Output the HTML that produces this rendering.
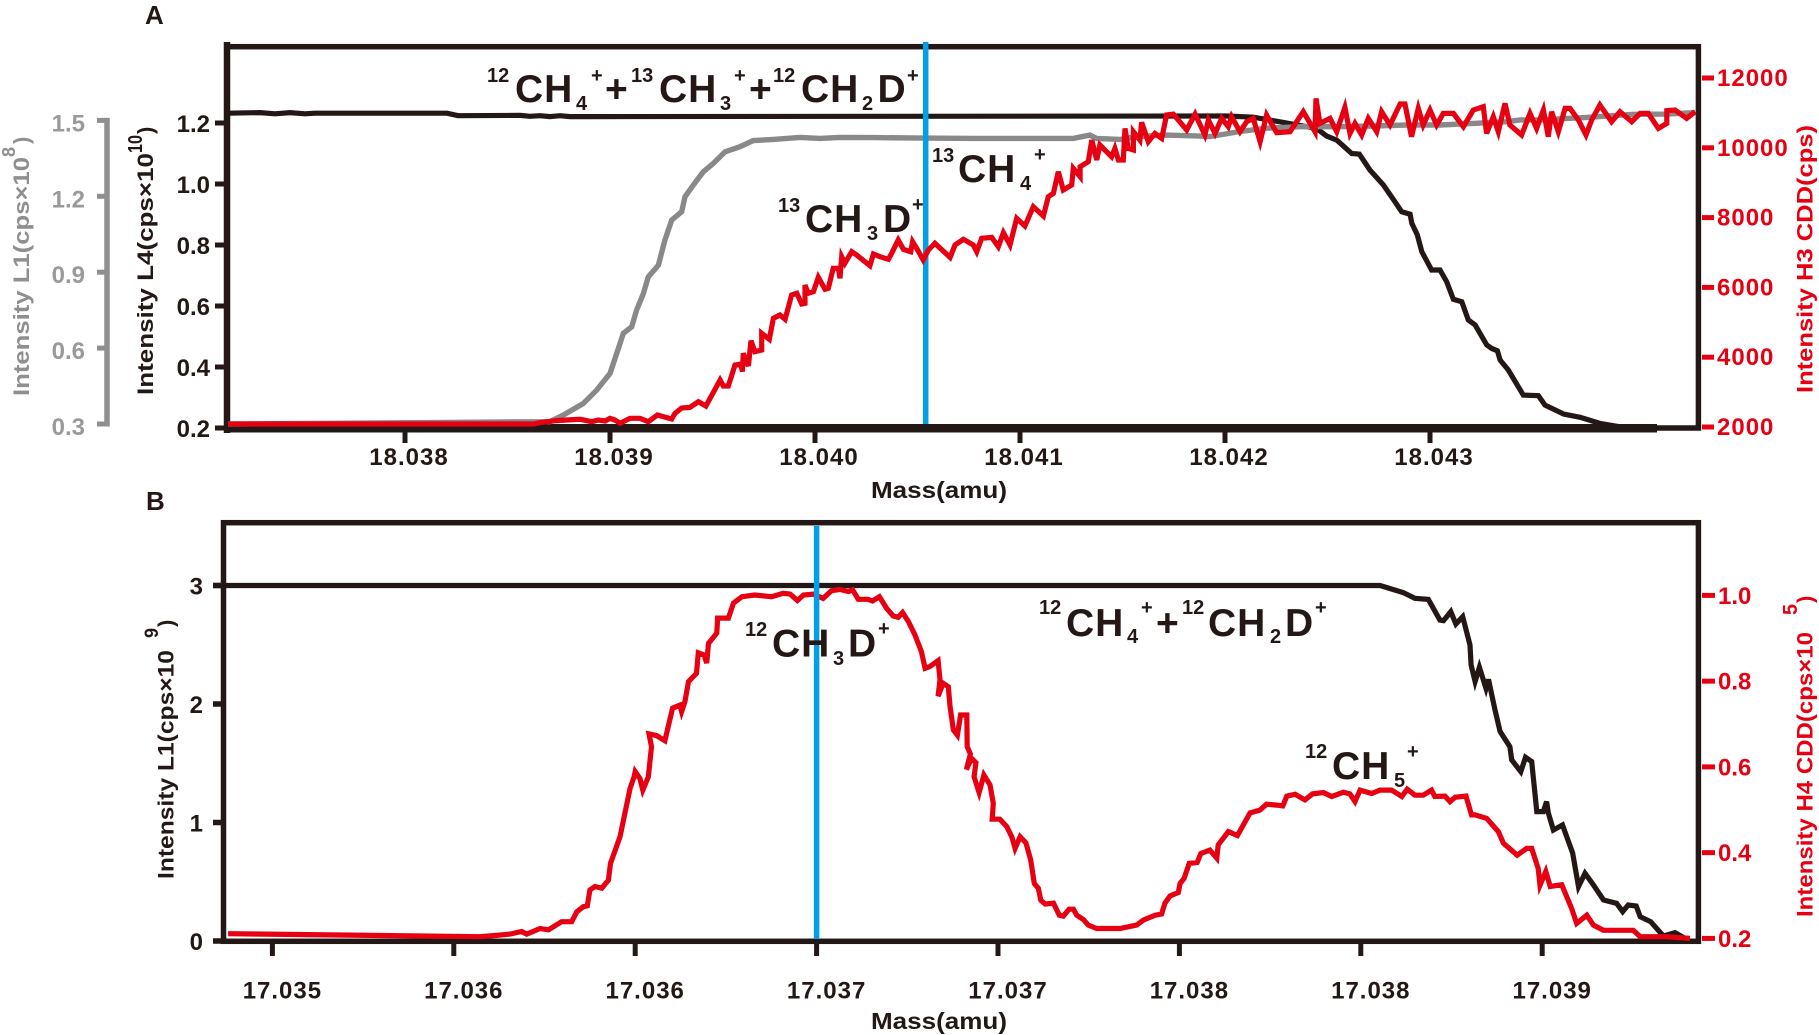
<!DOCTYPE html>
<html lang="en">
<head>
<meta charset="utf-8">
<title>Mass scan peaks of methane isotopologues</title>
<style>
html,body{margin:0;padding:0;background:#fff;}
svg{display:block;}
text{font-family:"Liberation Sans",Arial,sans-serif;font-weight:bold;}
.ann{font-size:39px;fill:#231815;letter-spacing:1px;}
.ann .s{font-size:20px;letter-spacing:0;}
</style>
</head>
<body>
<svg id="chart" xmlns="http://www.w3.org/2000/svg" width="1819" height="1035" viewBox="0 0 1819 1035">
  <rect x="0" y="0" width="1819" height="1035" fill="#fff"/>
  <text x="145" y="24" font-size="26" fill="#231815">A</text>
  <text x="146" y="510" font-size="26" fill="#231815">B</text>

  <g id="panelA"></g>
  <g id="panelB"></g>

  <!-- axis titles panel A -->
  <g fill="#8f8f8f">
    <text transform="translate(29,396) rotate(-90)" font-size="22" textLength="239" lengthAdjust="spacingAndGlyphs">Intensity L1(cps×10</text>
    <text transform="translate(15,157) rotate(-90)" font-size="18" textLength="10" lengthAdjust="spacingAndGlyphs">8</text>
    <text transform="translate(29,144) rotate(-90)" font-size="22">)</text>
  </g>
  <g fill="#231815">
    <text transform="translate(153,395) rotate(-90)" font-size="22" textLength="242" lengthAdjust="spacingAndGlyphs">Intensity L4(cps×10</text>
    <text transform="translate(142,153) rotate(-90)" font-size="20" textLength="18" lengthAdjust="spacingAndGlyphs">10</text>
    <text transform="translate(153,134) rotate(-90)" font-size="22">)</text>
  </g>
  <text transform="translate(1812.5,393) rotate(-90)" font-size="22" fill="#e60012" textLength="268" lengthAdjust="spacingAndGlyphs">Intensity H3 CDD(cps)</text>
  <text x="871" y="498" font-size="23" fill="#231815" textLength="136" lengthAdjust="spacingAndGlyphs">Mass(amu)</text>

  <!-- axis titles panel B -->
  <g fill="#231815">
    <text transform="translate(173.5,879) rotate(-90)" font-size="22" textLength="229" lengthAdjust="spacingAndGlyphs">Intensity L1(cps×10</text>
    <text transform="translate(158,638) rotate(-90)" font-size="19" textLength="10" lengthAdjust="spacingAndGlyphs">9</text>
    <text transform="translate(173.5,627) rotate(-90)" font-size="22">)</text>
  </g>
  <g fill="#e60012">
    <text transform="translate(1812.5,917) rotate(-90)" font-size="22" textLength="285" lengthAdjust="spacingAndGlyphs">Intensity H4 CDD(cps×10</text>
    <text transform="translate(1797,615) rotate(-90)" font-size="20" textLength="11" lengthAdjust="spacingAndGlyphs">5</text>
    <text transform="translate(1812.5,603) rotate(-90)" font-size="22">)</text>
  </g>
  <text x="871" y="1029" font-size="23" fill="#231815" textLength="136" lengthAdjust="spacingAndGlyphs">Mass(amu)</text>

  <!-- peak annotations -->
  <g id="annotations">
    <text class="ann"><tspan class="s" x="487" y="82">12</tspan><tspan x="515" y="102">CH</tspan><tspan class="s" x="576" y="110">4</tspan><tspan class="s" x="591" y="82">+</tspan><tspan x="605" y="102">+</tspan><tspan class="s" x="631" y="82">13</tspan><tspan x="659" y="102">CH</tspan><tspan class="s" x="720" y="110">3</tspan><tspan class="s" x="734" y="82">+</tspan><tspan x="749" y="102">+</tspan><tspan class="s" x="773" y="82">12</tspan><tspan x="801" y="102">CH</tspan><tspan class="s" x="862" y="110">2</tspan><tspan x="877.5" y="102">D</tspan><tspan class="s" x="907" y="82">+</tspan></text>
    <text class="ann"><tspan class="s" x="778" y="212">13</tspan><tspan x="805" y="232">CH</tspan><tspan class="s" x="867" y="240">3</tspan><tspan x="883" y="232">D</tspan><tspan class="s" x="912" y="211">+</tspan></text>
    <text class="ann"><tspan class="s" x="932" y="162">13</tspan><tspan x="958" y="182">CH</tspan><tspan class="s" x="1020" y="190">4</tspan><tspan class="s" x="1034" y="161">+</tspan></text>
    <text class="ann"><tspan class="s" x="745" y="636">12</tspan><tspan x="772" y="656.7">CH</tspan><tspan class="s" x="833" y="665">3</tspan><tspan x="848" y="656.7">D</tspan><tspan class="s" x="878" y="635">+</tspan></text>
    <text class="ann"><tspan class="s" x="1039" y="614">12</tspan><tspan x="1066" y="636">CH</tspan><tspan class="s" x="1127" y="643">4</tspan><tspan class="s" x="1141" y="614">+</tspan><tspan x="1156" y="636">+</tspan><tspan class="s" x="1182" y="614">12</tspan><tspan x="1208" y="636">CH</tspan><tspan class="s" x="1270" y="643">2</tspan><tspan x="1285" y="636">D</tspan><tspan class="s" x="1315" y="614">+</tspan></text>
    <text class="ann"><tspan class="s" x="1305" y="758">12</tspan><tspan x="1332" y="779">CH</tspan><tspan class="s" x="1394" y="787">5</tspan><tspan class="s" x="1407" y="758">+</tspan></text>
  </g>
</svg>
<script>
/* ---------- Panel A data (mass offsets in micro-amu above 18.038) ---------- */
const massTicksA = [18.038, 18.039, 18.040, 18.041, 18.042, 18.043];
const massLabelsA = ["18.038", "18.039", "18.040", "18.041", "18.042", "18.043"];
const l4TicksA = [1.2, 1.0, 0.8, 0.6, 0.4, 0.2];
const l1TicksA = [1.5, 1.2, 0.9, 0.6, 0.3];
const h3TicksA = [12000, 10000, 8000, 6000, 4000, 2000];
const markerMassA = 18.04054;

const blackMassA = [-863,-707,-634,-561,-488,-439,205,259,561,610,659,707,756,805,902,4008,4138,4268,4398,4447,4496,4545,4577,4618,4655,4707,4772,4829,4862,4903,4911,4938,4960,5008,5049,5081,5114,5155,5187,5220,5277,5301,5329,5342,5382,5455,5529,5561,5651,5732,5829,5927,6106];
const blackL4A = [1.232,1.234,1.230,1.234,1.230,1.232,1.232,1.224,1.225,1.222,1.224,1.221,1.224,1.221,1.221,1.223,1.219,1.204,1.188,1.182,1.157,1.144,1.125,1.100,1.098,1.046,0.997,0.942,0.909,0.901,0.871,0.833,0.778,0.718,0.718,0.680,0.622,0.614,0.554,0.538,0.472,0.461,0.453,0.423,0.390,0.308,0.306,0.275,0.246,0.235,0.215,0.204,0.204];

const grayMassA = [-863,707,772,870,935,1000,1041,1065,1106,1130,1163,1187,1236,1268,1301,1350,1366,1406,1455,1504,1561,1634,1699,1797,1927,2024,2122,2285,2528,2772,3195,3260,3341,3374,3488,3569,3715,3878,3927,4073,4203,4366,4561,4724,4886,5049,5211,5374,5439,5536,5764,5992,6155,6293];
const grayL1A = [0.300,0.309,0.335,0.381,0.434,0.500,0.599,0.658,0.684,0.750,0.816,0.882,0.928,1.027,1.106,1.139,1.198,1.244,1.297,1.330,1.376,1.396,1.420,1.425,1.433,1.429,1.433,1.432,1.430,1.429,1.429,1.429,1.442,1.429,1.425,1.436,1.442,1.438,1.436,1.456,1.469,1.475,1.475,1.478,1.482,1.482,1.488,1.495,1.502,1.502,1.512,1.524,1.525,1.531];

const redMassA = [-863,-24,629,659,740,789,854,911,943,976,1000,1024,1049,1098,1146,1187,1231,1301,1317,1350,1390,1431,1468,1537,1553,1577,1610,1639,1646,1650,1675,1688,1707,1740,1740,1777,1797,1829,1854,1886,1911,1935,1951,1951,1967,1992,2016,2049,2065,2089,2114,2122,2130,2146,2179,2203,2268,2285,2317,2358,2374,2406,2431,2467,2476,2496,2528,2553,2585,2659,2683,2724,2772,2789,2813,2862,2894,2919,2951,2984,3024,3065,3114,3138,3163,3187,
3211,3252,3260,3293,3293,3333,3350,3374,3390,3447,3463,3480,3504,3512,3528,3553,3553,3585,3593,3626,3658,3691,3715,3748,3813,3854,3902,3919,3951,3984,4016,4032,4073,4106,4138,4171,4203,4252,4317,4382,4439,4444,4463,4512,4545,4585,4610,4634,4667,4699,4740,4764,4805,4854,4878,4910,4943,4967,5000,5032,5065,5114,5163,5211,5260,5276,5309,5333,5366,5390,5447,5488,5520,5553,5577,5593,5626,
5659,5683,5724,5761,5789,5829,5886,5927,5984,6025,6065,6114,6155,6155,6195,6252,6293];
const redCpsA = [2086,2086,2086,2125,2182,2201,2220,2153,2201,2172,2249,2201,2105,2249,2249,2153,2344,2230,2392,2545,2564,2726,2602,3347,3175,3175,3777,3805,3586,4111,3748,4474,4159,4206,4684,4512,5114,5209,5085,5782,5830,5524,5544,6069,5830,5878,6288,5945,5973,6546,6546,6260,6881,6690,7024,6928,6622,6957,6881,6804,6976,7358,7091,7024,7310,7119,6785,7071,7263,6861,7215,7377,7215,7024,7406,7434,7167,7568,7215,7979,7759,8313,8046,8600,8695,9316,
8790,8933,9411,9172,9459,9602,10222,9650,10079,9745,9984,9650,9650,10557,9984,9936,10461,10222,10729,10175,10414,10270,10939,10967,10509,10967,10366,10796,10414,10843,10605,10891,10461,10748,10843,10175,10939,10433,10461,11034,10461,11416,10700,10843,10461,11158,10414,10700,10366,10843,10461,11034,10652,11254,11254,10318,11130,10652,11082,10652,10987,10987,10605,11082,11178,10414,10891,10461,11273,10652,10366,10987,10557,11082,10318,11034,10461,
11130,11130,10796,10366,10796,11225,10748,11034,10748,10987,10987,10557,10700,11063,11082,10843,11034];

/* ---------- Panel B data (mass offsets in micro-amu around 17.037) ---------- */
const massTicksB = [17.0355, 17.0360, 17.0365, 17.0370, 17.0375, 17.0380, 17.0385, 17.0390];
const massLabelsB = ["17.035", "17.036", "17.036", "17.037", "17.037", "17.038", "17.038", "17.039"];
const l1TicksB = [3, 2, 1, 0];
const h4TicksB = [1.0, 0.8, 0.6, 0.4, 0.2];
const markerMassB = 17.0370;

const blackMassB = [-1663,1553,1617,1649,1686,1718,1728,1748,1762,1781,1801,1804,1815,1827,1845,1852,1870,1884,1911,1916,1941,1954,1971,1985,2003,2012,2017,2031,2056,2084,2100,2118,2141,2169,2205,2222,2237,2259,2270,2299,2334,2366,2398];
const blackL1B = [3.0,3.0,2.940,2.892,2.883,2.709,2.703,2.779,2.675,2.737,2.498,2.329,2.189,2.310,2.132,2.208,1.950,1.767,1.640,1.528,1.429,1.550,1.514,1.092,1.092,1.176,1.078,0.937,0.979,0.740,0.459,0.571,0.473,0.346,0.318,0.248,0.304,0.295,0.205,0.163,0.042,0.070,0.014];

const redMassB = [-1622,-928,-882,-845,-813,-799,-762,-739,-703,-675,-661,-643,-632,-625,-611,-592,-574,-568,-542,-514,-503,-500,-487,-479,-464,-455,-462,-441,-418,-409,-397,-377,-372,-363,-353,-331,-326,-310,-303,-298,-275,-273,-243,-229,-206,-170,-124,-92,-73,-53,-36,-9,18,41,64,88,99,115,142,154,173,193,211,225,237,253,271,289,299,312,335,340,335,349,363,368,377,388,397,414,415,424,413,427,439,434,448,461,478,487,484,501,
505,524,538,547,561,577,590,600,611,618,630,653,669,680,696,708,717,735,749,772,836,882,901,933,951,960,974,997,1002,1013,1027,1049,1059,1084,1103,1107,1135,1160,1195,1222,1240,1268,1285,1296,1319,1346,1367,1397,1420,1452,1470,1484,1498,1530,1553,1585,1613,1628,1649,1672,1695,1704,1732,1746,1760,1790,1805,
1815,1847,1879,1893,1931,1957,1971,1989,1994,2010,2022,2054,2081,2095,2123,2141,2169,2251,2270,2343,2407];
const redH4B = [0.211,0.204,0.207,0.210,0.216,0.210,0.223,0.220,0.239,0.239,0.262,0.274,0.276,0.313,0.321,0.317,0.336,0.375,0.437,0.550,0.577,0.589,0.573,0.546,0.577,0.647,0.677,0.673,0.661,0.694,0.737,0.744,0.729,0.752,0.799,0.818,0.866,0.861,0.842,0.888,0.912,0.947,0.947,0.982,0.997,1.001,0.997,1.005,1.003,0.988,1.001,1.003,0.993,1.011,1.014,1.009,1.013,0.991,0.991,0.987,0.997,0.970,0.952,0.949,0.960,0.939,0.908,0.869,0.830,0.834,0.848,0.803,0.765,0.795,0.787,0.740,0.686,0.674,0.721,0.721,0.647,0.630,0.594,0.620,0.610,0.577,0.540,0.581,0.558,0.515,0.478,0.478,
0.478,0.461,0.437,0.410,0.437,0.423,0.383,0.328,0.317,0.289,0.280,0.282,0.254,0.252,0.268,0.268,0.254,0.244,0.231,0.223,0.223,0.231,0.243,0.254,0.257,0.282,0.299,0.307,0.328,0.340,0.375,0.377,0.398,0.406,0.387,0.418,0.449,0.440,0.493,0.499,0.513,0.511,0.509,0.532,0.536,0.523,0.537,0.540,0.531,0.541,0.537,0.519,0.546,0.538,0.546,0.546,0.531,0.548,0.534,0.534,0.546,0.531,0.532,0.519,0.529,0.532,0.488,
0.488,0.480,0.449,0.422,0.394,0.410,0.410,0.363,0.324,0.356,0.321,0.325,0.270,0.235,0.254,0.231,0.219,0.219,0.204,0.204,0.200];

/* ---------- Axis functions ---------- */
function xA(mass){ return 405 + (mass - 18.038) * 205000; }
function yL4A(v){ return 123 + (1.2 - v) * 305; }
function yL1A(v){ return 424 - (v - 0.3) * 253; }
function yH3A(v){ return 427 - (v - 2000) * 0.0349; }
function xB(mass){ return 816.6 + (mass - 17.037) * 362800; }
function yL1B(v){ return 941 - v * 118.5; }
function yH4B(v){ return 938.4 - (v - 0.2) * 428.75; }

const NS = 'http://www.w3.org/2000/svg';
const DARK = '#231815', RED = '#e60012', GRAY = '#898989', BLUE = '#00a0e9';

function mk(parent, tag, props){
  const el = document.createElementNS(NS, tag);
  for (const k in props) el.setAttribute(k, props[k]);
  parent.appendChild(el);
  return el;
}
function pointsOf(offsets, values, base, fx, fy){
  const out = [];
  const n = Math.min(offsets.length, values.length);
  for (let i = 0; i < n; i++){
    out.push(fx(base + offsets[i] / 1e6).toFixed(1) + ',' + fy(values[i]).toFixed(1));
  }
  return out.join(' ');
}
function seriesLine(parent, pts, color, width){
  return mk(parent, 'polyline', {points: pts, fill: 'none', stroke: color, 'stroke-width': width, 'stroke-linejoin': 'miter', 'stroke-miterlimit': 4});
}

/* ---------- Panel A ---------- */
const gA = document.getElementById('panelA');

const frameA = mk(gA, 'rect', {x: 227, y: 46.7, width: 1471.4, height: 381.3, fill: 'none', stroke: DARK, 'stroke-width': 5.5});


const leftBarA = mk(gA, 'line', {x1: 227, y1: 42, x2: 227, y2: 433, stroke: DARK, 'stroke-width': 6.5});


const bottomBarA = mk(gA, 'line', {x1: 224, y1: 428.3, x2: 1657, y2: 428.3, stroke: DARK, 'stroke-width': 8.5});



massTicksA.forEach((m, i) => {
  const t = mk(gA, 'line', {x1: xA(m), y1: 432, x2: xA(m), y2: 443, stroke: DARK, 'stroke-width': 5});
  
  
  const l = mk(gA, 'text', {x: xA(m) + 4, y: 465, 'font-size': 24, 'letter-spacing': 1, 'text-anchor': 'middle', fill: DARK});
  l.textContent = massLabelsA[i];
  
  
});
l4TicksA.forEach(v => {
  const t = mk(gA, 'line', {x1: 215, y1: yL4A(v), x2: 225, y2: yL4A(v), stroke: DARK, 'stroke-width': 5});
  
  
  const l = mk(gA, 'text', {x: 210, y: yL4A(v) + 9, 'font-size': 24, 'text-anchor': 'end', fill: DARK});
  l.textContent = v.toFixed(1);
  
  
});
const grayAxis = mk(gA, 'line', {x1: 107, y1: yL1A(1.5) - 2.5, x2: 107, y2: yL1A(0.3) + 2.5, stroke: '#8f8f8f', 'stroke-width': 5.5});


l1TicksA.forEach(v => {
  const t = mk(gA, 'line', {x1: 97, y1: yL1A(v), x2: 107, y2: yL1A(v), stroke: '#8f8f8f', 'stroke-width': 5});
  
  
  const l = mk(gA, 'text', {x: 85, y: yL1A(v) + 11, 'font-size': 24, 'text-anchor': 'end', fill: '#9a9a9a'});
  l.textContent = v.toFixed(1);
  
  
});
h3TicksA.forEach(v => {
  const t = mk(gA, 'line', {x1: 1702, y1: yH3A(v), x2: 1714, y2: yH3A(v), stroke: RED, 'stroke-width': 5});
  
  
  const l = mk(gA, 'text', {x: 1717, y: yH3A(v) + 8, 'font-size': 24, 'letter-spacing': 1, fill: RED});
  l.textContent = String(v);
  
  
});

const lineBlackA = seriesLine(gA, pointsOf(blackMassA, blackL4A, 18.038, xA, yL4A), DARK, 5.2);


const lineGrayA = seriesLine(gA, pointsOf(grayMassA, grayL1A, 18.038, xA, yL1A), GRAY, 5.4);


const markerA = mk(gA, 'line', {x1: xA(markerMassA), y1: 42, x2: xA(markerMassA), y2: 424, stroke: BLUE, 'stroke-width': 5.5});


const lineRedA = seriesLine(gA, pointsOf(redMassA, redCpsA, 18.038, xA, yH3A), RED, 5.2);



/* ---------- Panel B ---------- */
const gB = document.getElementById('panelB');

const frameB = mk(gB, 'rect', {x: 223.5, y: 522.7, width: 1474.9, height: 418.6, fill: 'none', stroke: DARK, 'stroke-width': 5.5});



massTicksB.forEach((m, i) => {
  const t = mk(gB, 'line', {x1: xB(m), y1: 943, x2: xB(m), y2: 956, stroke: DARK, 'stroke-width': 5});
  
  
  const l = mk(gB, 'text', {x: xB(m) + 10, y: 998.5, 'font-size': 24, 'letter-spacing': 1, 'text-anchor': 'middle', fill: DARK});
  l.textContent = massLabelsB[i];
  
  
});
l1TicksB.forEach(v => {
  const t = mk(gB, 'line', {x1: 213, y1: yL1B(v), x2: 223, y2: yL1B(v), stroke: DARK, 'stroke-width': 5.5});
  
  
  const l = mk(gB, 'text', {x: 203, y: yL1B(v) + 9, 'font-size': 24, 'text-anchor': 'end', fill: DARK});
  l.textContent = String(v);
  
  
});
h4TicksB.forEach(v => {
  const t = mk(gB, 'line', {x1: 1702, y1: yH4B(v), x2: 1715, y2: yH4B(v), stroke: RED, 'stroke-width': 5});
  
  
  const l = mk(gB, 'text', {x: 1718, y: yH4B(v) + 8.5, 'font-size': 24, fill: RED});
  l.textContent = v.toFixed(1);
  
  
});

const lineBlackB = seriesLine(gB, pointsOf(blackMassB, blackL1B, 17.037, xB, yL1B), DARK, 5.2);


const lineRedB = seriesLine(gB, pointsOf(redMassB, redH4B, 17.037, xB, yH4B), RED, 5.2);


const markerB = mk(gB, 'line', {x1: xB(markerMassB), y1: 526, x2: xB(markerMassB), y2: 939, stroke: BLUE, 'stroke-width': 5.5});


</script>
</body>
</html>
